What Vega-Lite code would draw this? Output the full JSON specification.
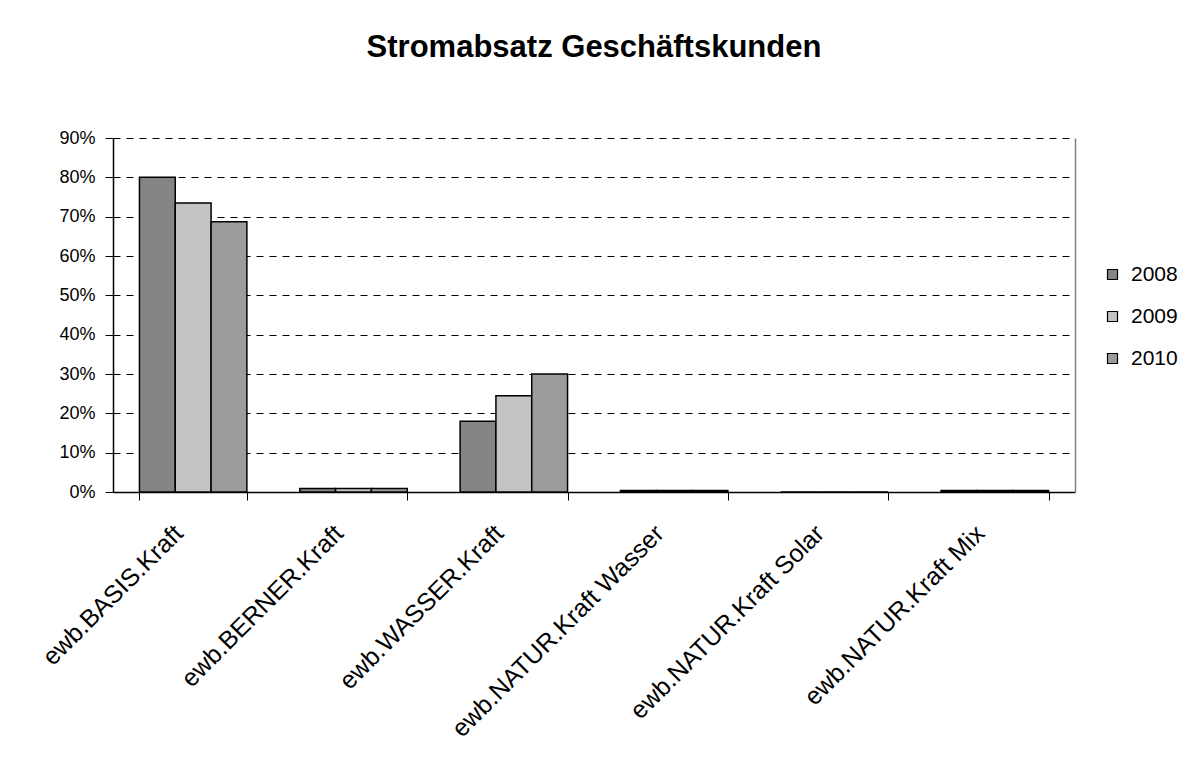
{
  "$schema": "https://vega.github.io/schema/vega-lite/v6.json",
  "width": 962,
  "height": 354,
  "autosize": {"type": "none"},
  "padding": {"left": 113, "top": 138, "right": 113, "bottom": 268},
  "background": "white",
  "title": {"text": "Stromabsatz Geschäftskunden", "font": "Liberation Sans", "fontSize": 31, "fontWeight": "bold", "color": "black", "anchor": "middle", "offset": 65},
  "data": {"values": [
    {"product": "ewb.BASIS.Kraft", "year": "2008", "share": 0.80},
    {"product": "ewb.BASIS.Kraft", "year": "2009", "share": 0.735},
    {"product": "ewb.BASIS.Kraft", "year": "2010", "share": 0.687},
    {"product": "ewb.BERNER.Kraft", "year": "2008", "share": 0.009},
    {"product": "ewb.BERNER.Kraft", "year": "2009", "share": 0.009},
    {"product": "ewb.BERNER.Kraft", "year": "2010", "share": 0.009},
    {"product": "ewb.WASSER.Kraft", "year": "2008", "share": 0.18},
    {"product": "ewb.WASSER.Kraft", "year": "2009", "share": 0.245},
    {"product": "ewb.WASSER.Kraft", "year": "2010", "share": 0.30},
    {"product": "ewb.NATUR.Kraft Wasser", "year": "2008", "share": 0.004},
    {"product": "ewb.NATUR.Kraft Wasser", "year": "2009", "share": 0.004},
    {"product": "ewb.NATUR.Kraft Wasser", "year": "2010", "share": 0.004},
    {"product": "ewb.NATUR.Kraft Solar", "year": "2008", "share": 0.0},
    {"product": "ewb.NATUR.Kraft Solar", "year": "2009", "share": 0.0},
    {"product": "ewb.NATUR.Kraft Solar", "year": "2010", "share": 0.0},
    {"product": "ewb.NATUR.Kraft Mix", "year": "2008", "share": 0.004},
    {"product": "ewb.NATUR.Kraft Mix", "year": "2009", "share": 0.004},
    {"product": "ewb.NATUR.Kraft Mix", "year": "2010", "share": 0.004}
  ]},
  "encoding": {
    "x": {
      "field": "product", "type": "nominal", "sort": null,
      "scale": {"paddingInner": 0.33, "paddingOuter": 0.165},
      "axis": {"title": null, "labelAngle": -45, "labelAlign": "right", "labelBaseline": "middle", "labelFontSize": 25, "labelFont": "Liberation Sans", "labelColor": "black", "labelPadding": 29, "labelOffset": -15, "tickBand": "extent", "tickColor": "black", "tickSize": 8, "domainColor": "black", "domainWidth": 1.5, "labelLimit": 500}
    },
    "xOffset": {"field": "year", "type": "nominal", "sort": ["2008", "2009", "2010"], "scale": {"paddingInner": 0, "paddingOuter": 0}},
    "color": {
      "field": "year", "type": "nominal",
      "scale": {"domain": ["2008", "2009", "2010"], "range": ["#858585", "#c4c4c4", "#9c9c9c"]},
      "legend": {"title": null, "orient": "none", "legendX": 989, "legendY": 126, "symbolType": "square", "symbolSize": 100, "symbolStrokeColor": "black", "symbolStrokeWidth": 1.2, "symbolOpacity": 1, "labelFontSize": 21, "labelFont": "Liberation Sans", "labelColor": "black", "rowPadding": 20, "labelOffset": 8}
    }
  },
  "layer": [
    {
      "mark": {"type": "bar", "stroke": "black", "strokeWidth": 1.5},
      "encoding": {
        "y": {
          "field": "share", "type": "quantitative",
          "scale": {"domain": [0, 0.9], "nice": false},
          "axis": {"title": null, "format": ".0%", "values": [0, 0.1, 0.2, 0.3, 0.4, 0.5, 0.6, 0.7, 0.8, 0.9], "labelFontSize": 18, "labelFont": "Liberation Sans", "labelColor": "black", "labelPadding": 10, "tickColor": "black", "tickSize": 8, "domainColor": "black", "domainWidth": 1.5, "grid": true, "gridColor": "black", "gridDash": [7, 6], "gridWidth": 1}
        }
      }
    },
    {
      "mark": {"type": "bar", "opacity": 0},
      "encoding": {
        "y": {
          "field": "share", "type": "quantitative",
          "axis": {"orient": "right", "title": null, "labels": false, "ticks": false, "grid": false, "domainColor": "#808080", "domainWidth": 1.5}
        }
      }
    }
  ],
  "resolve": {"axis": {"y": "independent"}},
  "config": {"view": {"stroke": null}}
}
